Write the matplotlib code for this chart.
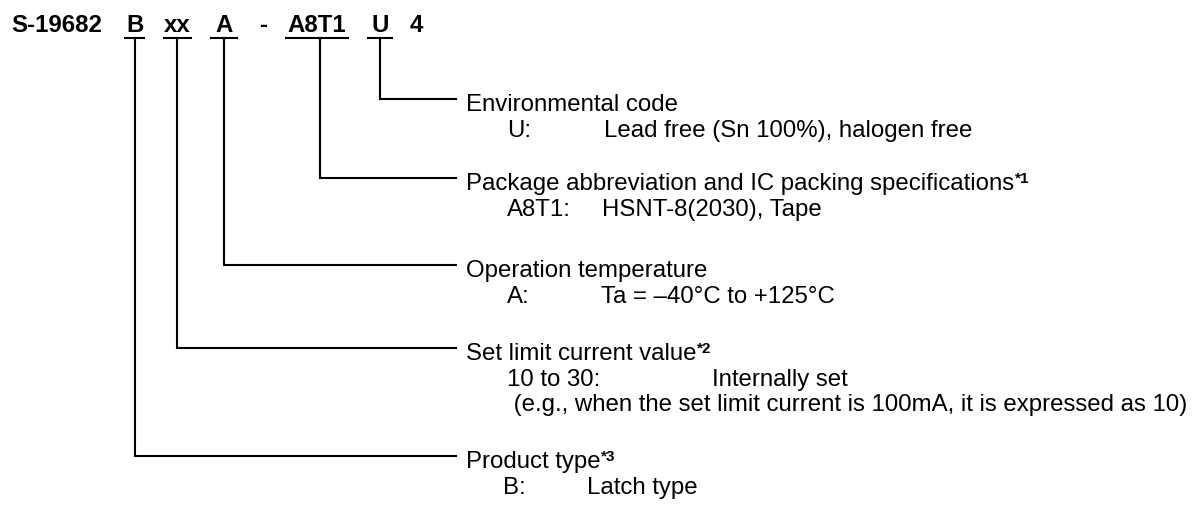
import matplotlib
matplotlib.use('Agg')
import matplotlib.pyplot as plt

plt.rcParams['font.family'] = ['Liberation Sans', 'DejaVu Sans']

# part number pieces along the top
code_parts = ['S-19682', 'B', 'xx', 'A', '-', 'A8T1', 'U', '4']
part_x = [57, 135, 177, 224, 263, 317, 380, 416]

# pieces that get a bracket line (bottom branch first)
branch_parts = ['B', 'xx', 'A', 'A8T1', 'U']
branch_labels = ['Product type', 'Set limit current value', 'Operation temperature',
                 'Package abbreviation and IC packing specifications', 'Environmental code']
branch_notes = ['*3', '*2', '', '*1', '']
branch_keys = [['B:'], ['10 to 30:'], ['A:'], ['A8T1:'], ['U:']]
branch_values = [['Latch type'], ['Internally set'], ['Ta = \u201340\u00b0C to +125\u00b0C'],
                 ['HSNT-8(2030), Tape'], ['Lead free (Sn 100%), halogen free']]
extra_line = ' (e.g., when the set limit current is 100mA, it is expressed as 10)'

# layout (pixels)
underline = [(124, 145), (163, 192), (210, 238), (285, 349), (367, 393)]
stem_x = [135, 177, 224, 320, 380]
elbow_y = [456, 348, 265, 178, 99]
value_x = [587, 712, 601, 602, 604]
key_x = [503, 507, 507, 507, 507]
LABEL_X = 466
LINE_END = 456
TOP_Y = 38
FS = 17.3

fig = plt.figure(figsize=(11.94, 5.24), dpi=100)
ax = fig.add_axes([0, 0, 1, 1])
ax.set_xlim(0, 1194)
ax.set_ylim(524, 0)
ax.axis('off')

for txt, x in zip(code_parts, part_x):
    ax.text(x, 32, txt, ha='center', va='baseline', fontsize=FS, fontweight='bold')

for i in range(len(branch_parts)):
    x0, x1 = underline[i]
    ax.plot([x0, x1], [TOP_Y, TOP_Y], color='black', lw=1.5, solid_capstyle='butt')
    ax.plot([stem_x[i], stem_x[i], LINE_END], [TOP_Y, elbow_y[i], elbow_y[i]],
            color='black', lw=1.5, solid_joinstyle='miter')

    y = elbow_y[i] + 12
    t = ax.text(LABEL_X, y, branch_labels[i], ha='left', va='baseline', fontsize=FS)
    if branch_notes[i]:
        ax.annotate(branch_notes[i], xy=(1, 1), xycoords=t, xytext=(0.5, 1),
                    textcoords='offset points', ha='left', va='top',
                    fontsize=11, fontweight='bold')
    for key, val in zip(branch_keys[i], branch_values[i]):
        ax.text(key_x[i], y + 26, key, ha='left', va='baseline', fontsize=FS)
        ax.text(value_x[i], y + 26, val, ha='left', va='baseline', fontsize=FS)
    if branch_parts[i] == 'xx':
        ax.text(key_x[i], y + 51, extra_line, ha='left', va='baseline', fontsize=FS)

fig.savefig('out.png', dpi=100)
